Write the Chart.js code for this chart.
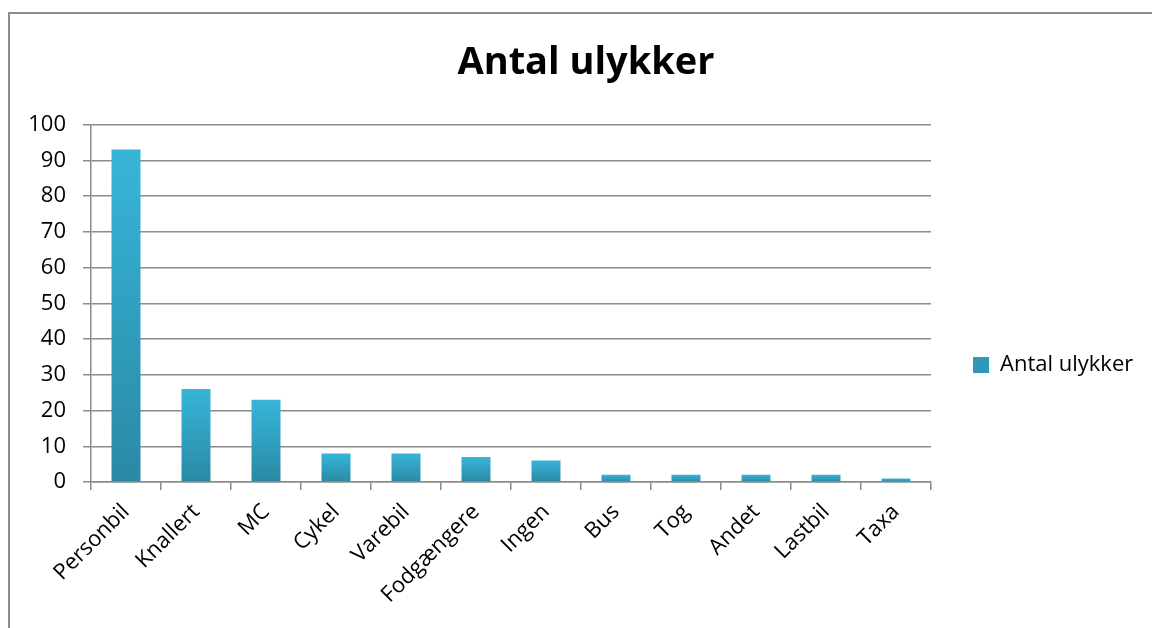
<!DOCTYPE html>
<html>
<head>
<meta charset="utf-8">
<script src="https://cdn.jsdelivr.net/npm/chart.js@4"></script>
<style>
    html, body { margin: 0; padding: 0; background: #fff; }
    #wrap { position: relative; width: 1152px; height: 628px; overflow: hidden; }
    #frame {
        position: absolute; left: 8px; top: 12px; width: 1200px; height: 700px;
        border-top: 2px solid #8c8c8c; border-left: 2px solid #8c8c8c;
    }
    #chart { position: absolute; left: 0; top: 0; }
</style>
</head>
<body>
<div id="wrap">
    <div id="frame"></div>
    <canvas id="chart" width="1152" height="628"></canvas>
</div>
<script>
// Antal ulykker fordelt på køretøjstype

const categories = ['Personbil', 'Knallert', 'MC', 'Cykel', 'Varebil', 'Fodgængere', 'Ingen', 'Bus', 'Tog', 'Andet', 'Lastbil', 'Taxa'];
const ulykker = [93, 26, 23, 8, 8, 7, 6, 2, 2, 2, 2, 1];
const yTicks = [0, 10, 20, 30, 40, 50, 60, 70, 80, 90, 100];

const FONT = "'Open Sans', 'DejaVu Sans', sans-serif";
const GRID = '#8c8c8c';

// gradient per søjle: lys top, mørk bund
function barGradient(ctx) {
    const chart = ctx.chart;
    if (ctx.type !== 'data' || !chart.chartArea) return '#31a6c9';
    const y = chart.scales.y;
    const top = y.getPixelForValue(ctx.raw);
    const base = y.getPixelForValue(0);
    const g = chart.ctx.createLinearGradient(0, top, 0, base);
    g.addColorStop(0, '#37b5d9');
    g.addColorStop(1, '#2a89a5');
    return g;
}

// fast legendebredde og lodret placering som i originalen
const legendPlacement = {
    id: 'legendPlacement',
    afterInit(chart) {
        const legend = chart.legend;
        const fit = legend.fit;
        legend.fit = function () {
            fit.call(this);
            this.width = 221;
        };
    },
    afterLayout(chart) {
        chart.legend.top += 51;
        chart.legend.bottom += 51;
    }
};

new Chart(document.getElementById('chart'), {
    type: 'bar',
    data: {
        labels: categories,
        datasets: [{
            label: 'Antal ulykker',
            data: ulykker,
            backgroundColor: barGradient,
            borderWidth: 0,
            barPercentage: 0.414,
            categoryPercentage: 1
        }]
    },
    options: {
        responsive: false,
        animation: false,
        layout: { padding: { left: 20, right: 0, top: 0, bottom: 0 } },
        scales: {
            x: {
                grid: { drawOnChartArea: false, drawTicks: true, tickLength: 8, color: GRID, lineWidth: 1.5, offset: true },
                border: { color: GRID, width: 1.5 },
                ticks: { color: '#000', font: { family: FONT, size: 22 }, minRotation: 45, maxRotation: 45, padding: 9, autoSkip: false },
                afterFit(scale) { scale.height = 146; }
            },
            y: {
                min: 0,
                max: 100,
                afterBuildTicks(scale) { scale.ticks = yTicks.map(v => ({ value: v })); },
                grid: { color: GRID, lineWidth: 1.5, tickLength: 8 },
                border: { color: GRID, width: 1.5 },
                ticks: { color: '#000', font: { family: FONT, size: 22 }, padding: 17 },
                afterFit(scale) { scale.width = 71; }
            }
        },
        plugins: {
            title: {
                display: true,
                text: 'Antal ulykker',
                color: '#000',
                font: { family: FONT, size: 38, weight: 'bold' },
                padding: { top: 40, bottom: 39 }
            },
            legend: {
                position: 'right',
                labels: {
                    color: '#000',
                    font: { family: FONT, size: 22 },
                    boxWidth: 16,
                    boxHeight: 16,
                    padding: 42
                }
            },
            tooltip: { enabled: false }
        }
    },
    plugins: [legendPlacement]
});
</script>
</body>
</html>
